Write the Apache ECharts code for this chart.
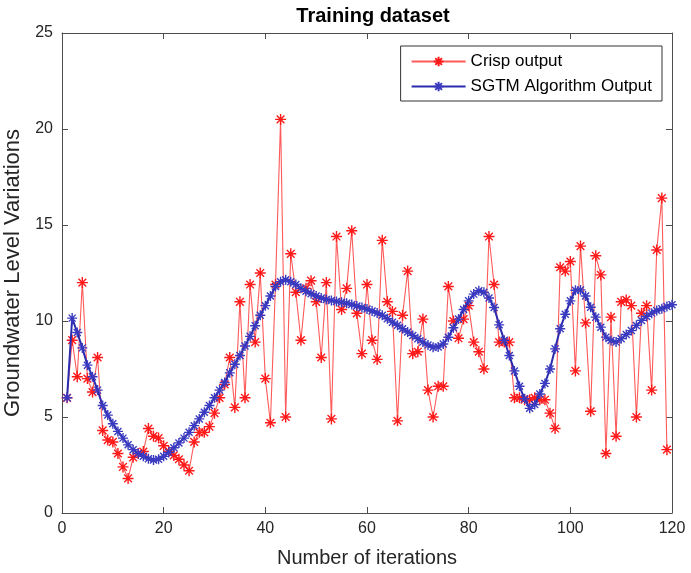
<!DOCTYPE html>
<html>
<head>
<meta charset="utf-8">
<script src="https://cdn.jsdelivr.net/npm/echarts@6/dist/echarts.min.js"></script>
<style>
  html, body { margin: 0; padding: 0; background: #fff; }
  #chart { width: 691px; height: 573px; }
</style>
</head>
<body>
<div id="chart"></div>
<script>
// Measured groundwater level variations, one value per training iteration (starting at 1)
const crispOutput = [
  6.0, 9.0, 7.1, 12.0, 7.0, 6.3, 8.1, 4.3, 3.8, 3.7,
  3.1, 2.4, 1.8, 2.9, 3.1, 3.2, 4.4, 4.0, 3.9, 3.5,
  3.2, 3.0, 2.8, 2.5, 2.2, 3.7, 4.2, 4.2, 4.5, 5.2,
  6.0, 6.7, 8.1, 5.5, 11.0, 6.0, 11.9, 8.9, 12.5, 7.0,
  4.7, 11.9, 20.5, 5.0, 13.5, 11.5, 9.0, 11.7, 12.1, 11.0,
  8.1, 12.0, 4.9, 14.4, 10.6, 11.7, 14.7, 10.4, 8.3, 11.9,
  9.0, 8.0, 14.2, 11.0, 10.5, 4.8, 10.3, 12.6, 8.3, 8.4,
  10.1, 6.4, 5.0, 6.6, 6.6, 11.8, 10.0, 9.1, 10.1, 10.8,
  8.9, 8.4, 7.5, 14.4, 11.9, 8.9, 8.9, 8.9, 6.0, 6.0,
  5.9, 5.9, 6.0, 5.9, 5.9, 5.2, 4.4, 12.8, 12.6, 13.1,
  7.4, 13.9, 9.9, 5.3, 13.4, 12.4, 3.1, 10.2, 4.0, 11.0,
  11.1, 10.8, 5.0, 10.4, 10.8, 6.4, 13.7, 16.4, 3.3
];

// Smoothed output of the SGTM model for the same iterations
const sgtmOutput = [
  6.0, 10.15, 9.4, 8.6, 7.7, 7.1, 6.4, 5.6, 5.1, 4.65,
  4.25, 3.9, 3.55, 3.3, 3.1, 2.95, 2.82, 2.76, 2.8, 2.95,
  3.15, 3.4, 3.65, 3.9, 4.2, 4.55, 4.9, 5.25, 5.6, 6.0,
  6.4, 6.8, 7.3, 7.75, 8.2, 8.7, 9.2, 9.75, 10.3, 10.8,
  11.3, 11.8, 12.05, 12.15, 12.05, 11.9, 11.7, 11.55, 11.42, 11.3,
  11.2, 11.12, 11.07, 11.02, 10.98, 10.93, 10.86, 10.78, 10.7, 10.62,
  10.52, 10.42, 10.3, 10.12, 9.94, 9.78, 9.6, 9.43, 9.25, 9.08,
  8.9, 8.75, 8.63, 8.65, 8.8, 9.15, 9.65, 10.1, 10.6, 11.05,
  11.4, 11.58, 11.5, 11.2, 10.7, 9.8, 9.0, 8.2, 7.4, 6.6,
  5.95, 5.45, 5.65, 6.2, 6.75, 7.5, 8.55, 9.6, 10.35, 11.05,
  11.6, 11.62, 11.3, 10.72, 10.2, 9.68, 9.16, 8.98, 8.9, 9.08,
  9.3, 9.5, 9.77, 10.03, 10.24, 10.41, 10.55, 10.64, 10.76, 10.85
];

const seriesNames = ['Crisp output', 'SGTM Algorithm Output'];
const xTicks = { min: 0, max: 120, interval: 20 };
const yTicks = { min: 0, max: 25, interval: 5 };

// pair each value with its iteration number
const toPoints = arr => arr.map((v, i) => [i + 1, v]);

// asterisk marker: vertical, horizontal and two diagonal strokes
const asterisk = 'path://M5,0L5,10M0,5L10,5M1.5,1.5L8.5,8.5M1.5,8.5L8.5,1.5';

const FONT = '"Liberation Sans", Arial, Helvetica, sans-serif';
const AXIS_COLOR = '#4d4d4d';
const TEXT_COLOR = '#262626';

// box-style axis: line on the plot edge, ticks pointing into the plot
const frameAxis = (extra) => Object.assign({
  type: 'value',
  axisLine: { show: true, onZero: false, lineStyle: { color: AXIS_COLOR, width: 1 } },
  axisTick: { show: true, inside: true, length: 6, lineStyle: { color: AXIS_COLOR } },
  splitLine: { show: false },
  axisLabel: { show: false }
}, extra);

const chart = echarts.init(document.getElementById('chart'), null, { renderer: 'canvas' });

chart.setOption({
  animation: false,
  backgroundColor: '#ffffff',
  title: {
    text: 'Training dataset',
    left: 368,
    textAlign: 'center',
    top: 1,
    textStyle: { fontFamily: FONT, fontSize: 20, fontWeight: 'bold', color: '#000' }
  },
  grid: { left: 62, right: 19, top: 33, bottom: 60, containLabel: false, outerBoundsMode: 'none' },
  legend: {
    data: seriesNames,
    orient: 'vertical',
    right: 29,
    top: 46,
    itemWidth: 54,
    itemHeight: 12,
    itemGap: 8,
    padding: [7, 10, 6, 10],
    borderColor: '#333',
    borderWidth: 1,
    backgroundColor: '#fff',
    textStyle: { fontFamily: FONT, fontSize: 17, color: '#000' }
  },
  xAxis: [
    frameAxis({
      min: xTicks.min, max: xTicks.max, interval: xTicks.interval,
      position: 'bottom',
      name: 'Number of iterations',
      nameLocation: 'middle',
      nameGap: 35,
      nameTextStyle: { fontFamily: FONT, fontSize: 20, color: TEXT_COLOR },
      axisLabel: { show: true, margin: 8, fontFamily: FONT, fontSize: 16, color: TEXT_COLOR }
    }),
    frameAxis({ min: xTicks.min, max: xTicks.max, interval: xTicks.interval, position: 'top' })
  ],
  yAxis: [
    frameAxis({
      min: yTicks.min, max: yTicks.max, interval: yTicks.interval,
      position: 'left',
      name: 'Groundwater Level Variations',
      nameLocation: 'middle',
      nameGap: 33,
      nameTextStyle: { fontFamily: FONT, fontSize: 22, color: TEXT_COLOR },
      axisLabel: { show: true, margin: 9, fontFamily: FONT, fontSize: 16, color: TEXT_COLOR }
    }),
    frameAxis({ min: yTicks.min, max: yTicks.max, interval: yTicks.interval, position: 'right' })
  ],
  series: [
    {
      name: seriesNames[0],
      type: 'line',
      data: toPoints(crispOutput),
      symbol: asterisk,
      symbolSize: 11,
      showAllSymbol: true,
      lineStyle: { color: '#ff5a5a', width: 1.1 },
      itemStyle: { color: '#ff1a1a', borderColor: '#ff1a1a', borderWidth: 1.4 },
      z: 2
    },
    {
      name: seriesNames[1],
      type: 'line',
      data: toPoints(sgtmOutput),
      symbol: asterisk,
      symbolSize: 10,
      showAllSymbol: true,
      lineStyle: { color: '#2b2bb0', width: 2 },
      itemStyle: { color: '#3a3ac0', borderColor: '#3a3ac0', borderWidth: 1.4 },
      z: 3
    }
  ]
});
</script>
</body>
</html>
